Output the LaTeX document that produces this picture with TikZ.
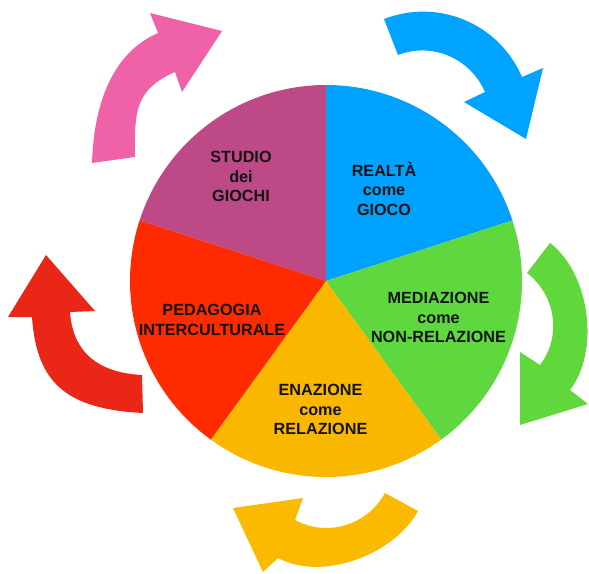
\documentclass[tikz,border=0pt]{standalone}
\usepackage{fontspec}
\setmainfont{Liberation Sans}
\definecolor{cpurple}{HTML}{BD4986}
\definecolor{cblue}{HTML}{00A2FF}
\definecolor{cgreen}{HTML}{5FD83F}
\definecolor{corange}{HTML}{F9B700}
\definecolor{cred}{HTML}{FF2A00}
\definecolor{apink}{HTML}{F062A8}
\definecolor{ablue}{HTML}{00A3FF}
\definecolor{agreen}{HTML}{60D83C}
\definecolor{aorange}{HTML}{F9BA00}
\definecolor{ared}{HTML}{EA2617}
\tikzset{
  lbl/.style={font=\bfseries\fontsize{16.2}{19.5}\selectfont, align=center, text=black!92, inner sep=0pt},
  sector/.style={draw=none},
  bigarrow/.style={draw=none}
}
\begin{document}
\begin{tikzpicture}[x=1pt,y=-1pt]
\useasboundingbox (0,0) rectangle (589,573);
\coordinate (C) at (326,281);
\def\R{196}
% pie sectors
\fill[sector,cpurple] (C) -- ++(-162:\R) arc[start angle=-162,end angle=-90,radius=\R] -- cycle;
\fill[sector,cblue]   (C) -- ++(-90:\R)  arc[start angle=-90,end angle=-18,radius=\R] -- cycle;
\fill[sector,cgreen]  (C) -- ++(-18:\R)  arc[start angle=-18,end angle=54,radius=\R] -- cycle;
\fill[sector,corange] (C) -- ++(54:\R)   arc[start angle=54,end angle=126,radius=\R] -- cycle;
\fill[sector,cred]    (C) -- ++(126:\R)  arc[start angle=126,end angle=198,radius=\R] -- cycle;
% labels
\node[lbl] (studio) at (241,176.5) {STUDIO\\dei\\GIOCHI};
\node[lbl] (realta) at (384,188.5) {REALTÀ\\come\\GIOCO};
\node[lbl] (mediaz) at (438.5,317.5) {MEDIAZIONE\\come\\NON-RELAZIONE};
\node[lbl] (enaz) at (320.5,409.7) {ENAZIONE\\come\\RELAZIONE};
\node[lbl] (pedag) at (212,319.7) {PEDAGOGIA\\INTERCULTURALE};
% pink arrow
\fill[bigarrow,apink] (92,163) .. controls (93.6,109.8) and (109.2,54.3) .. (158,33)
  -- (150,13) -- (222,31) -- (182,92) -- (175,72)
  .. controls (132.4,90.6) and (135,115.7) .. (135,157) -- cycle;
% blue arrow
\fill[bigarrow,ablue] (384,19) .. controls (438.2,-2.1) and (499,23.5) .. (522,77)
  -- (543,68) -- (526,139) -- (464,102) -- (485,92)
  .. controls (470.5,58.4) and (432.1,41.7) .. (398,55) -- cycle;
% green arrow
\fill[bigarrow,agreen] (550,243) .. controls (589.7,273.4) and (600.4,350.3) .. (570,390)
  -- (588,404) -- (520,425) -- (520,352) -- (540,365)
  .. controls (562,336.2) and (555.8,295.1) .. (527,273) -- cycle;
% orange arrow
\fill[bigarrow,aorange] (418,511) .. controls (394,554.9) and (322,581.8) .. (278,558)
  -- (263,572) -- (233,508) -- (303,498) -- (295,520)
  .. controls (327.3,537.5) and (367.4,525.2) .. (385,493) -- cycle;
% red arrow
\fill[bigarrow,ared] (143,413) .. controls (65.5,409.1) and (36.5,382.2) .. (32,317)
  -- (8,317) -- (46,255) -- (95,311) -- (70,312)
  .. controls (72.9,353.9) and (100.1,372.9) .. (142,375) -- cycle;
\end{tikzpicture}
\end{document}
